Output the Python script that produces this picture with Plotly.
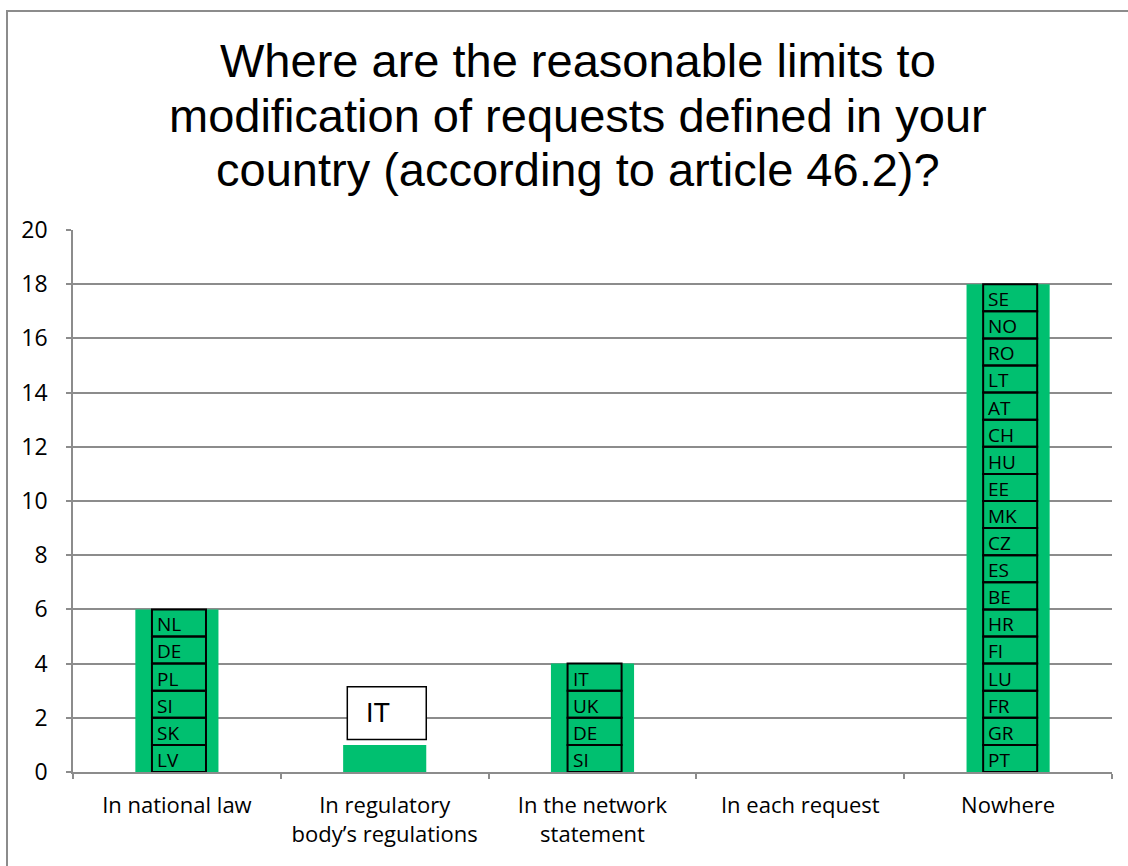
import plotly.graph_objects as go

categories = ["In national law", "In regulatory<br>body’s regulations", "In the network<br>statement", "In each request", "Nowhere"]
values = [6, 1, 4, 0, 18]
countries = {
    0: ["NL", "DE", "PL", "SI", "SK", "LV"],
    2: ["IT", "UK", "DE", "SI"],
    4: ["SE", "NO", "RO", "LT", "AT", "CH", "HU", "EE", "MK", "CZ", "ES", "BE", "HR", "FI", "LU", "FR", "GR", "PT"],
}
callout = {1: "IT"}
title_lines = ["Where are the reasonable limits to",
               "modification of requests defined in your",
               "country (according to article 46.2)?"]

GREEN = "#00C070"
W, H = 1128, 866
ML, MR, MT, MB = 73, 16, 230, 94
PW, PH = W - ML - MR, H - MT - MB


def py(p):
    return (H - MB - p) / PH


def px(p):
    return (p - ML) / PW


fig = go.Figure()
fig.add_trace(go.Bar(x=categories, y=values, marker=dict(color=GREEN, line=dict(width=0)),
                     hoverinfo="skip", showlegend=False))

shapes = []
annotations = []
for ci, codes in countries.items():
    for k, code in enumerate(codes):
        top = values[ci] - k
        bot = top - 1
        shapes.append(dict(type="rect", xref="x", yref="y", x0=ci - 0.12, x1=ci + 0.14, y0=bot, y1=top,
                           line=dict(color="black", width=2), fillcolor="rgba(0,0,0,0)", layer="above"))
        annotations.append(dict(x=ci - 0.12, y=(top + bot) / 2 - 0.05, xref="x", yref="y", text=code,
                                showarrow=False, xanchor="left", yanchor="middle", xshift=3,
                                font=dict(family="Open Sans, sans-serif", size=19, color="black")))

for ci, code in callout.items():
    y0 = values[ci] + 0.2
    y1 = values[ci] + 2.15
    shapes.append(dict(type="rect", xref="x", yref="y", x0=ci - 0.18, x1=ci + 0.2, y0=y0, y1=y1,
                       line=dict(color="black", width=1.5), fillcolor="white", layer="above"))
    annotations.append(dict(x=ci - 0.03, y=(y0 + y1) / 2, xref="x", yref="y", text=code, showarrow=False,
                            xanchor="center", yanchor="middle",
                            font=dict(family="Liberation Sans, Arial, sans-serif", size=27, color="black")))

# outer chart border
shapes.append(dict(type="rect", xref="paper", yref="paper",
                   x0=px(7), x1=px(1140), y0=py(880), y1=py(11),
                   line=dict(color="#8c8c8c", width=2), fillcolor="rgba(0,0,0,0)", layer="below"))

for line, centre in zip(title_lines, [61, 115, 169]):
    annotations.append(dict(x=px(578), y=py(centre), xref="paper", yref="paper", text=line,
                            showarrow=False, xanchor="center", yanchor="middle",
                            font=dict(family="Liberation Sans, Arial, sans-serif", size=47, color="black")))

fig.update_layout(
    width=W, height=H, margin=dict(l=ML, r=MR, t=MT, b=MB),
    paper_bgcolor="white", plot_bgcolor="white",
    shapes=shapes, annotations=annotations, bargap=0.6,
    xaxis=dict(type="category", showgrid=False, zeroline=False,
               showline=True, linecolor="#8c8c8c", linewidth=1.5,
               ticks="outside", tickson="boundaries", ticklen=5, tickcolor="#8c8c8c", tickwidth=1.5,
               ticklabelstandoff=13,
               tickfont=dict(family="Open Sans, sans-serif", size=22, color="black")),
    yaxis=dict(range=[0, 20], dtick=2, showgrid=True, gridcolor="#8c8c8c", gridwidth=1.5,
               zeroline=False, showline=True, linecolor="#8c8c8c", linewidth=1.5,
               ticks="outside", ticklen=5, tickcolor="#8c8c8c", tickwidth=1.5,
               ticklabelstandoff=14,
               tickfont=dict(family="Open Sans, sans-serif", size=23, color="black")),
)

fig.write_html("out.html")
